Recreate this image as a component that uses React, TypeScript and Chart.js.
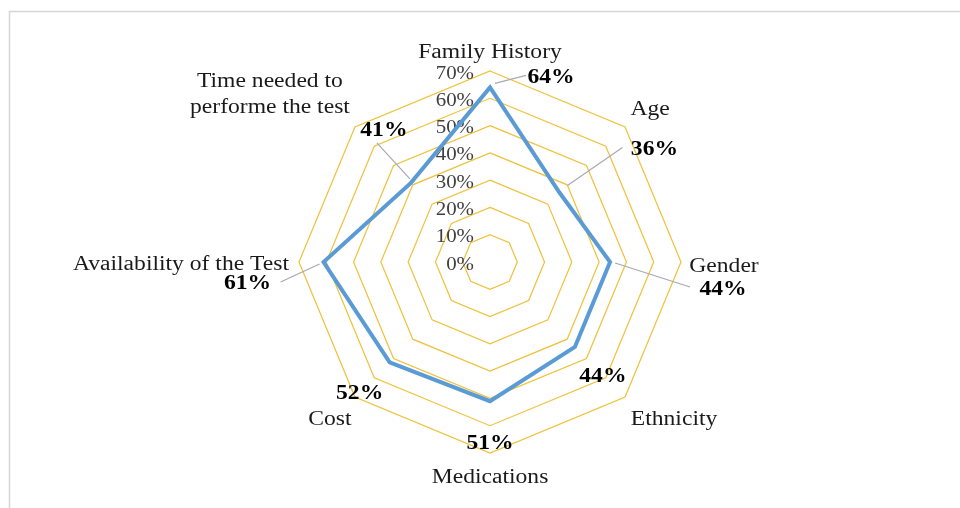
import React, { useEffect, useRef } from "react";
import { Chart, registerables } from "chart.js";

Chart.register(...registerables);

const categories: (string | string[])[] = [
  "Family History",
  "Age",
  "Gender",
  "Ethnicity",
  "Medications",
  "Cost",
  "Availability of the Test",
  ["Time needed to", "performe the test"],
];
const values: number[] = [64, 36, 44, 44, 51, 52, 61, 41];
const axisMin = 0;
const axisMax = 70;
const axisStep = 10;

// layout offsets (relative to outer vertex) for category labels: [dx, baselineDy]
const catOffsets: [number, number][] = [
  [0, -13],
  [25, -12],
  [43, 10],
  [49, 28],
  [0, 30],
  [-25, 28],
  [-118, 8],
  [-85, -40],
];
// value label offsets relative to data point: [dx, baselineDy]
const valOffsets: [number, number][] = [
  [61, -4],
  [95, -38],
  [113, 33],
  [28, 35],
  [0, 48],
  [-30, 37],
  [-76, 27],
  [-27, -47],
];
// leader lines relative to data point: [x1, y1, x2, y2] or null
const leaders: ([number, number, number, number] | null)[] = [
  [5, -4, 36, -12],
  [8, -7, 63, -45],
  [5, 1, 80, 25],
  null,
  null,
  null,
  [-4, 2, -43, 20],
  [-1, -4, -34, -40],
];

const SERIF = '"Liberation Serif", "Times New Roman", serif';

function stretchText(
  ctx: CanvasRenderingContext2D,
  text: string,
  x: number,
  y: number,
  sx: number,
  align: CanvasTextAlign
) {
  ctx.save();
  ctx.translate(x, y);
  ctx.scale(sx, 1);
  ctx.textAlign = align;
  ctx.textBaseline = "alphabetic";
  ctx.fillText(text, 0, 0);
  ctx.restore();
}

const frameAndTicks = {
  id: "frameAndTicks",
  beforeDatasetsDraw(chart: any) {
    const ctx: CanvasRenderingContext2D = chart.ctx;
    const scale = chart.scales.r;
    ctx.save();
    // frame
    ctx.strokeStyle = "#d6d6d6";
    ctx.lineWidth = 1.5;
    ctx.beginPath();
    ctx.moveTo(9.5, 508);
    ctx.lineTo(9.5, 11.5);
    ctx.lineTo(960, 11.5);
    ctx.stroke();
    // tick labels
    ctx.fillStyle = "#404040";
    ctx.font = `19px ${SERIF}`;
    for (let v = axisMin; v <= axisMax; v += axisStep) {
      const d = scale.getDistanceFromCenterForValue(v);
      stretchText(ctx, `${v}%`, scale.xCenter - 16, scale.yCenter - d + 7.5, 1.1, "right");
    }
    ctx.restore();
  },
  afterDatasetsDraw(chart: any) {
    const ctx: CanvasRenderingContext2D = chart.ctx;
    const scale = chart.scales.r;
    ctx.save();
    // category labels
    ctx.fillStyle = "#1a1a1a";
    ctx.font = `20px ${SERIF}`;
    categories.forEach((c, i) => {
      const p = scale.getPointPosition(i, scale.drawingArea);
      const [dx, dy] = catOffsets[i];
      const lines = Array.isArray(c) ? c : [c];
      lines.forEach((t, k) => {
        stretchText(ctx, t, p.x + dx, p.y + dy + k * 26, 1.18, "center");
      });
    });
    // leaders and value labels
    values.forEach((v, i) => {
      const p = scale.getPointPositionForValue(i, v);
      const l = leaders[i];
      if (l) {
        ctx.strokeStyle = "#a8a8b4";
        ctx.lineWidth = 1.2;
        ctx.beginPath();
        ctx.moveTo(p.x + l[0], p.y + l[1]);
        ctx.lineTo(p.x + l[2], p.y + l[3]);
        ctx.stroke();
      }
      ctx.fillStyle = "#000000";
      ctx.font = `bold 20px ${SERIF}`;
      const [dx, dy] = valOffsets[i];
      stretchText(ctx, `${v}%`, p.x + dx, p.y + dy, 1.18, "center");
    });
    ctx.restore();
  },
};

export default function App() {
  const ref = useRef<HTMLCanvasElement | null>(null);
  useEffect(() => {
    if (!ref.current) return;
    const chart = new Chart(ref.current, {
      type: "radar",
      data: {
        labels: categories as any,
        datasets: [
          {
            data: values,
            borderColor: "#5B9BD5",
            borderWidth: 4,
            backgroundColor: "rgba(0,0,0,0)",
            fill: false,
            pointRadius: 0,
            pointHoverRadius: 0,
            tension: 0,
          },
        ],
      },
      options: {
        animation: false,
        responsive: false,
        maintainAspectRatio: false,
        devicePixelRatio: 1,
        layout: { padding: { left: 100, right: 80, top: 71, bottom: 55 } },
        plugins: {
          legend: { display: false },
          tooltip: { enabled: false },
          title: { display: false },
        },
        scales: {
          r: {
            min: axisMin,
            max: axisMax,
            startAngle: 0,
            ticks: { display: false, stepSize: axisStep },
            grid: { circular: false, color: "#EFC13A", lineWidth: 1.2 },
            angleLines: { display: false },
            pointLabels: { display: false },
          },
        },
      },
      plugins: [frameAndTicks],
    });
    return () => chart.destroy();
  }, []);
  return (
    <div style={{ position: "fixed", left: 0, top: 0, width: 960, height: 508, background: "#ffffff" }}>
      <canvas ref={ref} width={960} height={508} style={{ width: 960, height: 508, display: "block" }} />
    </div>
  );
}
